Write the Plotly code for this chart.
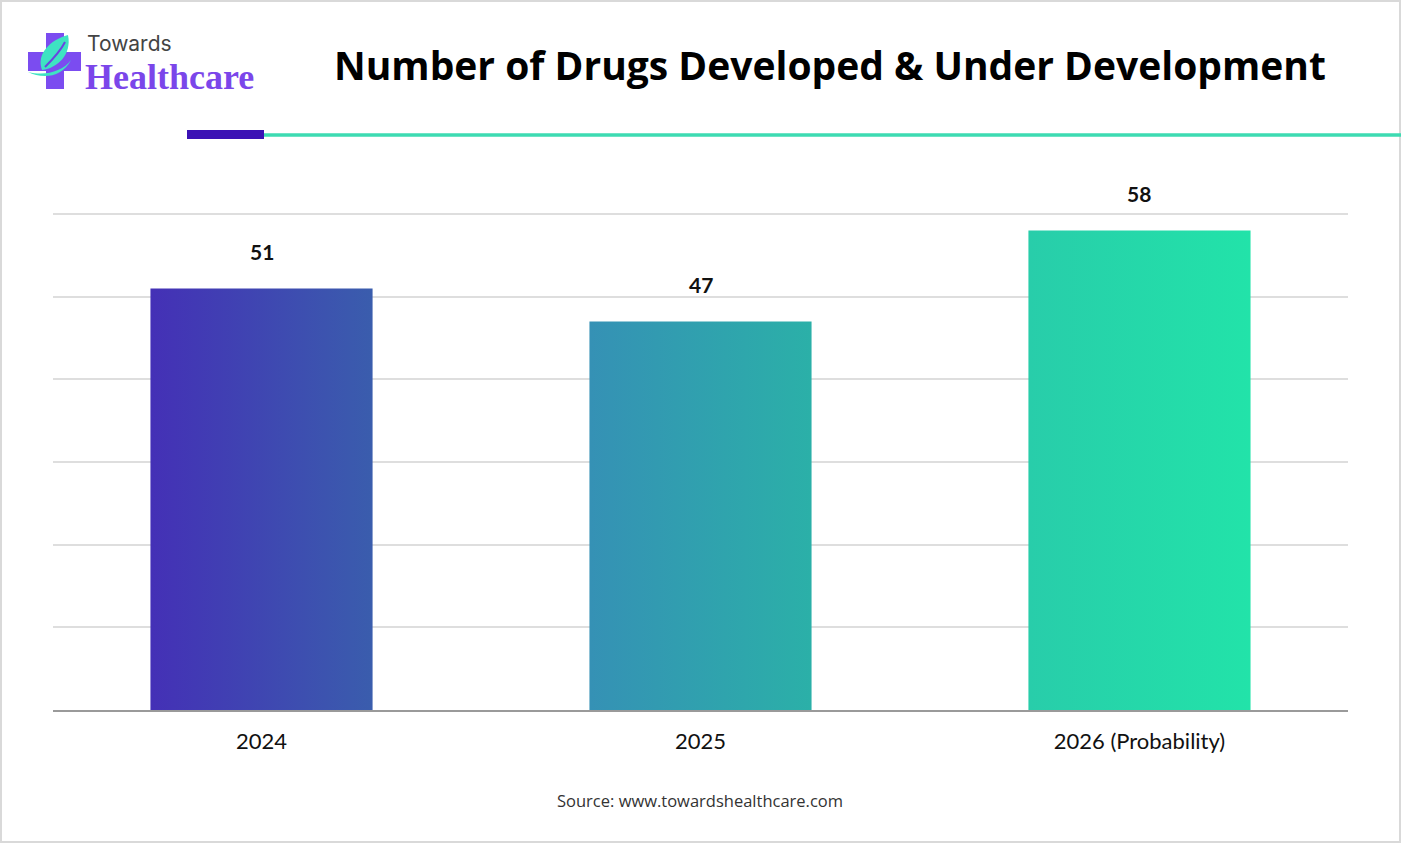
import plotly.graph_objects as go

categories = ["2024", "2025", "2026 (Probability)"]
values = [51, 47, 58]
grad_left = ["#4430B6", "#3591B5", "#28CDAA"]
grad_right = ["#3A5DAD", "#2BB0A8", "#22E3A9"]
y_ticks = [0, 10, 20, 30, 40, 50, 60]

W, H = 1401, 843
L, R, B = 53, 1348, 710
GRID_TOP = 214          # pixel row where the 60 gridline sits
T = 204                 # actual top of plot area (a little above the last gridline)
Y_MAX = 60 * (B - T) / (B - GRID_TOP)
BAR_HALF = 0.253


def px(x):
    return (x - L) / (R - L)


def py(y):
    return (B - y) / (B - T)


fig = go.Figure()

for i, (cat, v) in enumerate(zip(categories, values)):
    xs = [i - BAR_HALF, i + BAR_HALF, i + BAR_HALF, i - BAR_HALF, i - BAR_HALF]
    ys = [0, 0, v, v, 0]
    fig.add_trace(go.Scatter(
        x=xs, y=ys, fill="toself", mode="lines",
        line=dict(width=0, color="rgba(0,0,0,0)"),
        fillgradient=dict(type="horizontal",
                          colorscale=[[0, grad_left[i]], [1, grad_right[i]]]),
        hoverinfo="skip", showlegend=False,
    ))
    fig.add_annotation(x=i, y=v, text=f"<b>{v}</b>", showarrow=False,
                       yanchor="middle", yshift=37,
                       font=dict(family="Lato", size=21, color="#111"))

shapes = []
# border
shapes.append(dict(type="rect", xref="paper", yref="paper",
                   x0=px(1), x1=px(1400), y0=py(1), y1=py(842),
                   line=dict(color="#d9d9d9", width=2), layer="below"))
# header lines
shapes.append(dict(type="line", xref="paper", yref="paper",
                   x0=px(263), x1=px(1401), y0=py(135), y1=py(135),
                   line=dict(color="#3DDBB2", width=3.5)))
shapes.append(dict(type="rect", xref="paper", yref="paper",
                   x0=px(187), x1=px(264), y0=py(130), y1=py(139),
                   fillcolor="#3B12B5", line=dict(width=0)))
# logo cross
shapes.append(dict(type="rect", xref="paper", yref="paper",
                   x0=px(46), x1=px(64), y0=py(33), y1=py(89),
                   fillcolor="#7B4CF0", line=dict(width=0)))
shapes.append(dict(type="rect", xref="paper", yref="paper",
                   x0=px(28), x1=px(81), y0=py(52), y1=py(71),
                   fillcolor="#7B4CF0", line=dict(width=0)))


def path_from(cmds):
    out = []
    for c in cmds:
        if c[0] == "Z":
            out.append("Z")
        else:
            pts = " ".join(f"{px(a):.5f},{py(b):.5f}" for a, b in c[1:])
            out.append(f"{c[0]} {pts}")
    return " ".join(out)


leaf = path_from([("M", (68, 35)), ("C", (50, 40), (36, 54), (42, 70)),
                  ("C", (58, 68), (72, 54), (68, 35)), ("Z",)])
shapes.append(dict(type="path", xref="paper", yref="paper", path=leaf,
                   fillcolor="#3EE3C2", line=dict(width=0)))
tail = path_from([("M", (28, 72)), ("C", (42, 79), (62, 78), (71, 60)),
                  ("C", (62, 72), (45, 76), (28, 72)), ("Z",)])
shapes.append(dict(type="path", xref="paper", yref="paper", path=tail,
                   fillcolor="#3EE3C2", line=dict(width=0)))
vein = path_from([("M", (45, 67)), ("C", (52, 60), (60, 52), (65, 42))])
shapes.append(dict(type="path", xref="paper", yref="paper", path=vein,
                   line=dict(color="#6A45E0", width=2)))

fig.update_layout(shapes=shapes)

# logo text
fig.add_annotation(xref="paper", yref="paper", x=px(85), y=py(43),
                   xanchor="left", yanchor="middle", showarrow=False,
                   text="Towards", font=dict(family="Inter", size=21, color="#444"))
fig.add_annotation(xref="paper", yref="paper", x=px(83), y=py(77),
                   xanchor="left", yanchor="middle", showarrow=False,
                   text="<b>Healthcare</b>",
                   font=dict(family="Liberation Serif", size=36, color="#7B46EA"))
# title
fig.add_annotation(xref="paper", yref="paper", x=px(830), y=py(64),
                   xanchor="center", yanchor="middle", showarrow=False,
                   text="<b>Number of Drugs Developed &amp; Under Development</b>",
                   font=dict(family="Open Sans", size=39, color="#000"))
# source
fig.add_annotation(xref="paper", yref="paper", x=px(700), y=py(800),
                   xanchor="center", yanchor="middle", showarrow=False,
                   text="Source: www.towardshealthcare.com",
                   font=dict(family="Open Sans", size=16.5, color="#333"))

fig.update_layout(
    width=W, height=H,
    margin=dict(l=L, r=W - R, t=T, b=H - B, autoexpand=False),
    paper_bgcolor="white", plot_bgcolor="white",
    xaxis=dict(range=[-0.475, 2.475], tickvals=list(range(len(categories))),
               ticktext=categories, showgrid=False, zeroline=False,
               showline=True, linecolor="#9a9a9a", linewidth=1.5,
               ticks="", ticklabelstandoff=11,
               tickfont=dict(family="Lato", size=22, color="#111"),
               fixedrange=True),
    yaxis=dict(range=[0, Y_MAX], tickvals=y_ticks, showticklabels=False,
               showgrid=True, gridcolor="#dedede", gridwidth=1.5,
               zeroline=False, showline=False, fixedrange=True),
)

fig.write_html("out.html", config={"displayModeBar": False},
               post_script="document.body.style.margin='0';document.body.style.overflow='hidden';")
